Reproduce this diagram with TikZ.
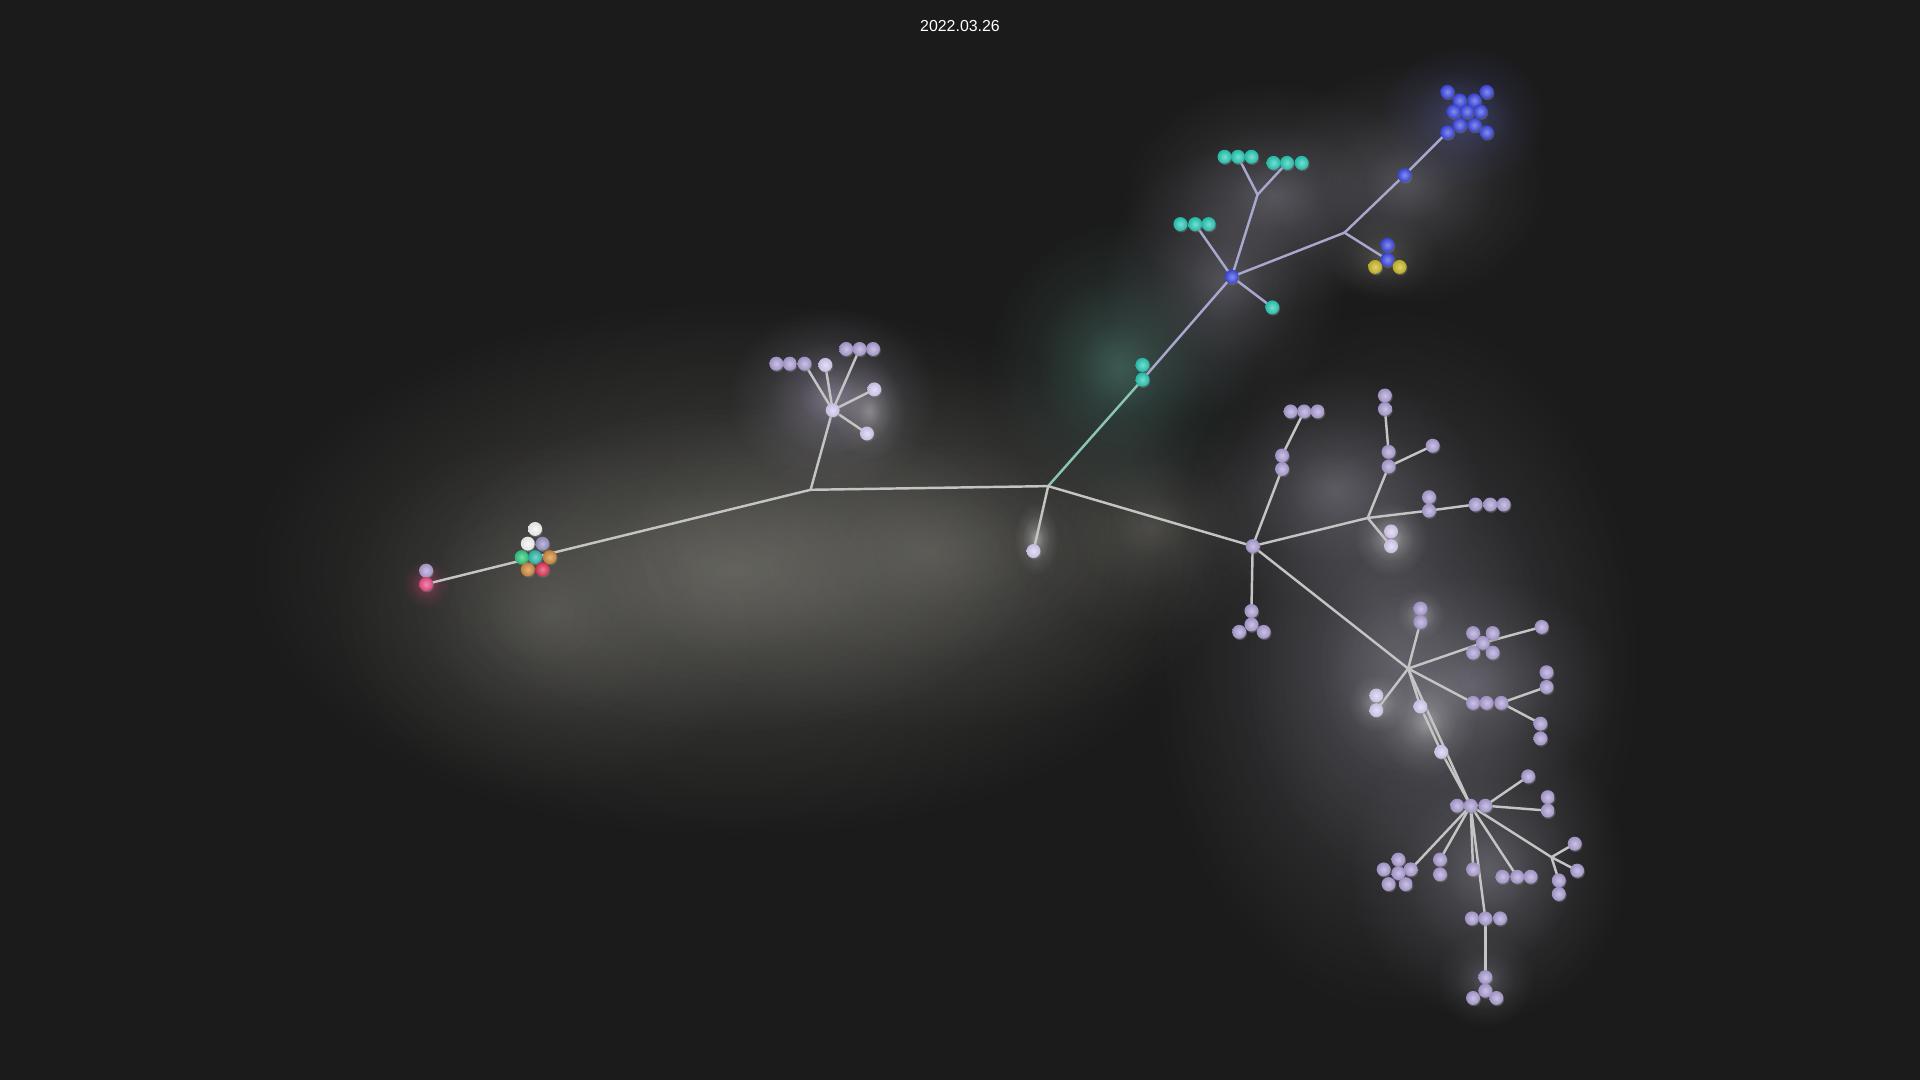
\documentclass[tikz,border=0pt]{standalone}
\usepackage{fontspec}
\setmainfont{Liberation Sans}
\usetikzlibrary{fadings,shadows}
\pgfdeclarelayer{glowlayer}
\pgfdeclarelayer{edgelayer}
\pgfsetlayers{glowlayer,edgelayer,main}
\tikzfading[name=glowfade, inner color=transparent!0, outer color=transparent!100]
\definecolor{bgc}{RGB}{27,27,27}
\definecolor{lav}{RGB}{172,158,212}
\definecolor{lavL}{RGB}{214,204,242}
\definecolor{cyn}{RGB}{38,200,180}
\definecolor{blu}{RGB}{60,72,226}
\definecolor{yel}{RGB}{200,184,34}
\definecolor{pnk}{RGB}{232,72,130}
\definecolor{rdc}{RGB}{222,52,86}
\definecolor{org}{RGB}{206,136,56}
\definecolor{grn}{RGB}{44,198,124}
\definecolor{tel}{RGB}{44,184,168}
\definecolor{pgr}{RGB}{150,146,196}
\definecolor{wht}{RGB}{244,244,244}
\definecolor{edgec}{RGB}{196,196,196}
\definecolor{edgeb}{RGB}{168,168,206}
\definecolor{edget}{RGB}{140,196,186}
\definecolor{haze}{RGB}{122,121,114}
\definecolor{hazep}{RGB}{130,128,140}
\definecolor{hazet}{RGB}{92,146,132}
\definecolor{hazeb}{RGB}{100,106,190}
\newcommand{\glowat}[6]{%
  \pgfmathsetmacro{\gA}{0.45*#6}\pgfmathsetmacro{\gB}{0.35*#6}\pgfmathsetmacro{\gC}{0.3*#6}%
  \fill[#5, fill opacity=\gA, path fading=glowfade] (#1,#2) ellipse ({#3*1pt} and {#4*1pt});
  \fill[#5, fill opacity=\gB, path fading=glowfade] (#1,#2) ellipse ({0.62*#3*1pt} and {0.62*#4*1pt});
  \fill[#5, fill opacity=\gC, path fading=glowfade] (#1,#2) ellipse ({0.32*#3*1pt} and {0.32*#4*1pt});}
\tikzset{
  ball/.style={circle, inner sep=0pt, minimum size=11.4pt, draw=none,
    inner color=#1!62!white, outer color=#1!92!black,
    drop shadow={shadow xshift=0.7pt, shadow yshift=-1.1pt, opacity=0.45}},
  edge/.style={draw=edgec, line width=2pt, line cap=round},
  edgeb/.style={draw=edgeb, line width=2pt, line cap=round},
  edget/.style={draw=edget, line width=2pt, line cap=round},
  title/.style={text=white, font=\fontsize{13}{15}\selectfont}
}
\begin{document}
\begin{tikzpicture}[x=1pt,y=-1pt]
\useasboundingbox (0,0) rectangle (1568,882);
\begin{pgfonlayer}{glowlayer}
\fill[bgc] (0,0) rectangle (1568,882);
\glowat{600}{465}{400}{220}{haze}{1.0}
\glowat{760}{450}{260}{150}{haze}{0.6}
\glowat{450}{500}{180}{150}{haze}{0.5}
\glowat{940}{430}{110}{90}{haze}{0.5}
\glowat{348}{477}{20}{20}{pnk}{0.6}
\glowat{680}{325}{85}{75}{lavL}{0.5}
\glowat{915}{300}{110}{120}{hazet}{0.6}
\glowat{1000}{230}{100}{110}{hazep}{0.6}
\glowat{1040}{160}{125}{95}{hazep}{0.65}
\glowat{1150}{150}{115}{100}{hazep}{0.6}
\glowat{1195}{95}{70}{60}{hazeb}{0.55}
\glowat{1130}{210}{45}{35}{haze}{0.6}
\glowat{1140}{540}{200}{290}{hazep}{0.8}
\glowat{1090}{400}{120}{100}{hazep}{0.65}
\glowat{1200}{560}{120}{90}{hazep}{0.7}
\glowat{1215}{710}{115}{125}{hazep}{0.75}
\glowat{1213}{800}{40}{40}{hazep}{0.6}
\glowat{1136}{440}{30}{30}{white}{0.55}
\glowat{1165}{590}{40}{45}{white}{0.4}
\glowat{1125}{574}{24}{24}{white}{0.45}
\glowat{846}{440}{18}{30}{white}{0.5}
\glowat{710}{336}{30}{40}{white}{0.35}
\glowat{1160}{502}{20}{20}{white}{0.4}
\end{pgfonlayer}

\node[title] (ttl) at (784,21) {2022.03.26};

% left part
\node[ball=lav] (lp1) at (348,466) {};
\node[ball=pnk] (pk) at (348,477) {};
\node[ball=wht] (w1) at (437,432) {};
\node[ball=wht] (w2) at (431,444) {};
\node[ball=pgr] (pg) at (443,444) {};
\node[ball=grn] (gr) at (426,455) {};
\node[ball=tel] (tl) at (437,455) {};
\node[ball=org] (or1) at (449,455) {};
\node[ball=org] (or2) at (431,465) {};
\node[ball=rdc] (rd) at (443,465) {};
\coordinate (J1) at (662,400);
\coordinate (J2) at (856,397);
% H1 cluster
\node[ball=lavL] (H1) at (680,335) {};
\node[ball=lav] (r1a) at (634,297) {};
\node[ball=lav] (r1b) at (645,297) {};
\node[ball=lav] (r1c) at (657,297) {};
\node[ball=lavL] (s1) at (674,298) {};
\node[ball=lav] (r2a) at (691,285) {};
\node[ball=lav] (r2b) at (702,285) {};
\node[ball=lav] (r2c) at (713,285) {};
\node[ball=lavL] (s2) at (714,318) {};
\node[ball=lavL] (s3) at (708,354) {};
\node[ball=lavL] (sb) at (844,450) {};
% cyan / blue
\node[ball=cyn] (cy0) at (933,298) {};
\node[ball=cyn] (cy1) at (933,310) {};
\node[ball=blu] (B1) at (1006,226) {};
\node[ball=cyn] (ca1) at (964,183) {};
\node[ball=cyn] (ca2) at (976,183) {};
\node[ball=cyn] (ca3) at (987,183) {};
\node[ball=cyn] (cs) at (1039,251) {};
\coordinate (J3) at (1027,159);
\node[ball=cyn] (cb1) at (1000,128) {};
\node[ball=cyn] (cb2) at (1011,128) {};
\node[ball=cyn] (cb3) at (1022,128) {};
\node[ball=cyn] (cc1) at (1040,133) {};
\node[ball=cyn] (cc2) at (1051,133) {};
\node[ball=cyn] (cc3) at (1063,133) {};
\coordinate (J4) at (1098,190);
\node[ball=blu] (bm) at (1147,143) {};
\node[ball=blu] (bk1) at (1182,75) {};
\node[ball=blu] (bk2) at (1214,75) {};
\node[ball=blu] (bk3) at (1182,108) {};
\node[ball=blu] (bk4) at (1214,108) {};
\node[ball=blu] (bk5) at (1192,82) {};
\node[ball=blu] (bk6) at (1204,82) {};
\node[ball=blu] (bk7) at (1187,91) {};
\node[ball=blu] (bk8) at (1198,91) {};
\node[ball=blu] (bk9) at (1209,91) {};
\node[ball=blu] (bk10) at (1192,102) {};
\node[ball=blu] (bk11) at (1204,102) {};
\node[ball=blu] (yb1) at (1133,200) {};
\node[ball=blu] (yb2) at (1133,212) {};
\node[ball=yel] (yy1) at (1123,218) {};
\node[ball=yel] (yy2) at (1143,218) {};
% purple lower right
\node[ball=lav] (P1) at (1023,446) {};
\node[ball=lav] (pa1) at (1047,372) {};
\node[ball=lav] (pa2) at (1047,383) {};
\node[ball=lav] (pr1) at (1054,336) {};
\node[ball=lav] (pr2) at (1065,336) {};
\node[ball=lav] (pr3) at (1076,336) {};
\coordinate (J5) at (1117,423);
\node[ball=lav] (pb1) at (1134,369) {};
\node[ball=lav] (pb2) at (1134,381) {};
\node[ball=lav] (pc1) at (1131,323) {};
\node[ball=lav] (pc2) at (1131,334) {};
\node[ball=lav] (pd) at (1170,364) {};
\node[ball=lav] (pe1) at (1167,406) {};
\node[ball=lav] (pe2) at (1167,417) {};
\node[ball=lav] (pf1) at (1205,412) {};
\node[ball=lav] (pf2) at (1217,412) {};
\node[ball=lav] (pf3) at (1228,412) {};
\node[ball=lavL] (pg1) at (1136,434) {};
\node[ball=lavL] (pg2) at (1136,446) {};
\node[ball=lav] (ta) at (1022,499) {};
\node[ball=lav] (tc) at (1022,510) {};
\node[ball=lav] (tlb) at (1012,516) {};
\node[ball=lav] (trb) at (1032,516) {};
\coordinate (J6) at (1150,546);
\node[ball=lav] (q1) at (1160,497) {};
\node[ball=lav] (q2) at (1160,508) {};
\node[ball=lav] (x1) at (1203,517) {};
\node[ball=lav] (x2) at (1219,517) {};
\node[ball=lav] (xc) at (1211,525) {};
\node[ball=lav] (x3) at (1203,533) {};
\node[ball=lav] (x4) at (1219,533) {};
\node[ball=lav] (xb) at (1259,512) {};
\node[ball=lavL] (l1) at (1124,568) {};
\node[ball=lavL] (l2) at (1124,580) {};
\node[ball=lavL] (bb1) at (1160,577) {};
\node[ball=lavL] (bb2) at (1177,614) {};
\node[ball=lav] (rw1) at (1203,574) {};
\node[ball=lav] (rw2) at (1214,574) {};
\node[ball=lav] (rw3) at (1226,574) {};
\node[ball=lav] (u1) at (1263,549) {};
\node[ball=lav] (u2) at (1263,561) {};
\node[ball=lav] (v1) at (1258,591) {};
\node[ball=lav] (v2) at (1258,603) {};
\node[ball=lav] (hL) at (1190,658) {};
\node[ball=lav] (hC) at (1201,658) {};
\node[ball=lav] (hR) at (1213,658) {};
\node[ball=lav] (k1) at (1248,634) {};
\node[ball=lav] (m1) at (1264,651) {};
\node[ball=lav] (m2) at (1264,662) {};
\node[ball=lav] (fN) at (1142,702) {};
\node[ball=lav] (fW) at (1130,710) {};
\node[ball=lav] (fE) at (1152,710) {};
\node[ball=lav] (fC) at (1142,713) {};
\node[ball=lav] (fSW) at (1134,722) {};
\node[ball=lav] (fSE) at (1148,722) {};
\node[ball=lav] (n1) at (1176,702) {};
\node[ball=lav] (n2) at (1176,714) {};
\node[ball=lav] (o1) at (1203,710) {};
\node[ball=lav] (rr1) at (1227,716) {};
\node[ball=lav] (rr2) at (1239,716) {};
\node[ball=lav] (rr3) at (1250,716) {};
\coordinate (J7) at (1267,700);
\node[ball=lav] (z1) at (1286,689) {};
\node[ball=lav] (z2) at (1288,711) {};
\node[ball=lav] (y1) at (1273,719) {};
\node[ball=lav] (y2) at (1273,730) {};
\node[ball=lav] (ww1) at (1202,750) {};
\node[ball=lav] (ww2) at (1213,750) {};
\node[ball=lav] (ww3) at (1225,750) {};
\node[ball=lav] (tt) at (1213,798) {};
\node[ball=lav] (tc2) at (1213,809) {};
\node[ball=lav] (tl2) at (1203,815) {};
\node[ball=lav] (tr2) at (1222,815) {};

\begin{pgfonlayer}{edgelayer}
\draw[edge] (pk.center) -- (tl.center) -- (J1);
\draw[edge] (J1) -- (H1.center);
\foreach \t in {r1c,s1,r2b,s2,s3} \draw[edge] (H1.center) -- (\t.center);
\draw[edge] (J1) -- (J2);
\draw[edge] (J2) -- (sb.center);
\draw[edget] (J2) -- (cy1.center);
\draw[edgeb] (cy1.center) -- (B1.center);
\foreach \t in {ca2,cs,J3,J4} \draw[edgeb] (B1.center) -- (\t);
\draw[edgeb] (J3) -- (cb2.center);
\draw[edgeb] (J3) -- (cc2.center);
\draw[edgeb] (J4) -- (bm.center) -- (bk3.center);
\draw[edgeb] (J4) -- (yb2.center);
\draw[edge] (J2) -- (P1.center);
\draw[edge] (P1.center) -- (pa2.center);
\draw[edge] (pa1.center) -- (pr2.center);
\draw[edge] (P1.center) -- (J5);
\draw[edge] (J5) -- (pb2.center);
\draw[edge] (pb1.center) -- (pc2.center);
\draw[edge] (pb2.center) -- (pd.center);
\draw[edge] (J5) -- (pe2.center);
\draw[edge] (pe2.center) -- (pf1.center);
\draw[edge] (J5) -- (pg2.center);
\draw[edge] (P1.center) -- (ta.center);
\draw[edge] (P1.center) -- (J6);
\draw[edge] (J6) -- (q2.center);
\draw[edge] (J6) -- (xc.center) -- (xb.center);
\draw[edge] (J6) -- (l2.center);
\draw[edge] (J6) -- (bb1.center) -- (bb2.center) -- (hC.center);
\draw[edge] (J6) -- (hC.center);
\draw[edge] (J6) -- (rw1.center);
\draw[edge] (rw3.center) -- (u2.center);
\draw[edge] (rw3.center) -- (v1.center);
\draw[edge] (hR.center) -- (k1.center);
\draw[edge] (hR.center) -- (m2.center);
\foreach \t in {fE,n1,o1,rr2,ww2} \draw[edge] (hC.center) -- (\t.center);
\draw[edge] (hC.center) -- (J7);
\foreach \t in {z1,z2,y1} \draw[edge] (J7) -- (\t.center);
\draw[edge] (ww2.center) -- (tt.center);
\end{pgfonlayer}
\end{tikzpicture}
\end{document}
